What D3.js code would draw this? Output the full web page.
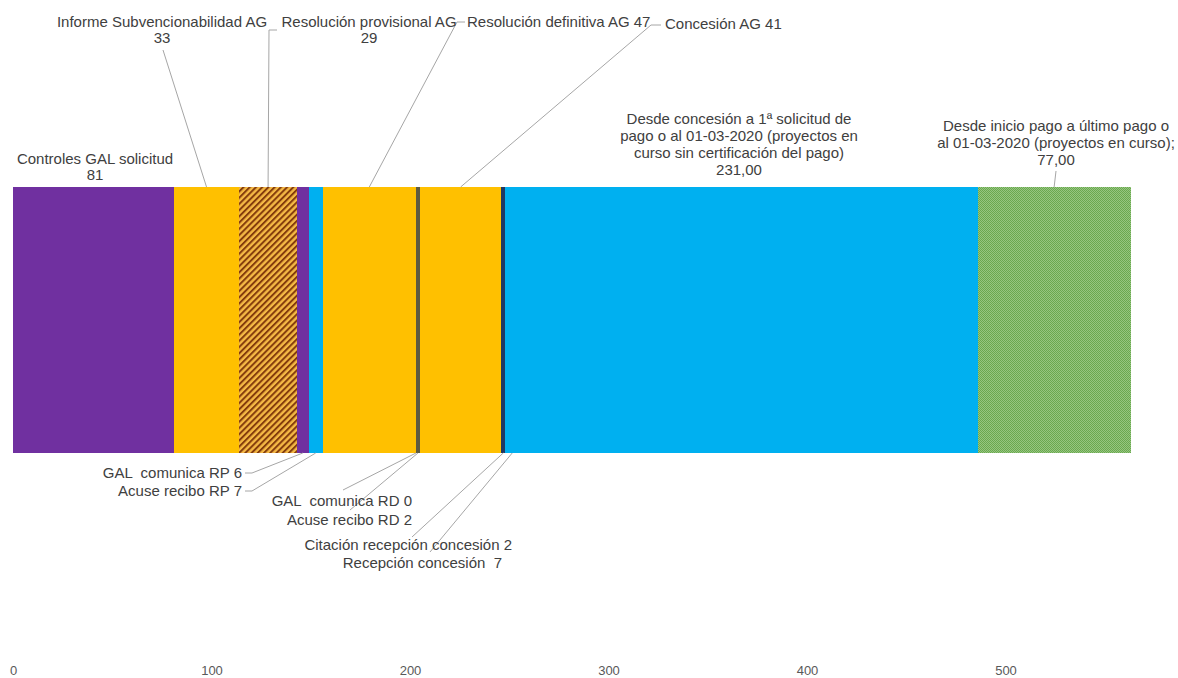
<!DOCTYPE html>
<html>
<head>
<meta charset="utf-8">
<script src="https://cdn.jsdelivr.net/npm/d3@7"></script>
<style>
  html, body { margin: 0; padding: 0; background: #fff; }
  svg { display: block; font-family: "Liberation Sans", Arial, sans-serif; }
</style>
</head>
<body>
<svg id="chart" width="1178" height="678"></svg>
<script>
// ---------- data ----------
const categories = [
  "Controles GAL solicitud",
  "Informe Subvencionabilidad AG",
  "Resolución provisional AG",
  "GAL  comunica RP",
  "Acuse recibo RP",
  "Resolución definitiva AG",
  "GAL  comunica RD",
  "Acuse recibo RD",
  "Concesión AG",
  "Citación recepción concesión",
  "Recepción concesión ",
  "Desde concesión a 1ª solicitud de pago o al 01-03-2020 (proyectos en curso sin certificación del pago)",
  "Desde inicio pago a último pago o al 01-03-2020 (proyectos en curso)"
];
const values = [81, 33, 29, 6, 7, 47, 0, 2, 41, 2, 7, 231, 77];
const valueLabels = ["81", "33", "29", "6", "7", "47", "0", "2", "41", "2", "7", "231,00", "77,00"];
const tickValues = [0, 100, 200, 300, 400, 500];

// ---------- styles ----------
const fills = [
  "#7030a0", "#ffc000", "url(#hatchOrange)", "#7030a0", "#00b0f0", "#ffc000",
  "#5d5a40", "#5d5a40", "#ffc000", "#1f3864", "#00b0f0", "#00b0f0", "url(#dotGreen)"
];
const textColor = "#404040";
const leaderColor = "#a6a6a6";

// label layout: text lines built from category + value; positions are layout only
const labelLayout = [
  { lines: ["Controles GAL solicitud", "81"], x: 95, y: 164, anchor: "middle", lh: 16 },
  { lines: ["Informe Subvencionabilidad AG", "33"], x: 162, y: 27, anchor: "middle", lh: 16,
    leader: { side: "top", pts: [[163, 50]] } },
  { lines: ["Resolución provisional AG", "29"], x: 369, y: 27, anchor: "middle", lh: 16,
    leader: { side: "top", pts: [[269, 30], [277, 30]] } },
  { lines: ["GAL  comunica RP 6"], x: 242, y: 478, anchor: "end",
    leader: { side: "bottom", pts: [[252, 473], [245, 473]] } },
  { lines: ["Acuse recibo RP 7"], x: 242, y: 496, anchor: "end",
    leader: { side: "bottom", pts: [[252, 491], [245, 491]] } },
  { lines: ["Resolución definitiva AG 47"], x: 467, y: 27, anchor: "start",
    leader: { side: "top", pts: [[457, 22], [465, 22]] } },
  { lines: ["GAL  comunica RD 0"], x: 412, y: 506, anchor: "end",
    leader: { side: "bottom", pts: [[343, 490]] } },
  { lines: ["Acuse recibo RD 2"], x: 412, y: 525, anchor: "end",
    leader: { side: "bottom", pts: [[350, 510]] } },
  { lines: ["Concesión AG 41"], x: 665, y: 29, anchor: "start",
    leader: { side: "top", pts: [[651, 25], [661, 25]] } },
  { lines: ["Citación recepción concesión 2"], x: 512, y: 550, anchor: "end",
    leader: { side: "bottom", pts: [[412, 537]] } },
  { lines: ["Recepción concesión  7"], x: 502, y: 568, anchor: "end",
    leader: { side: "bottom", pts: [[430, 552]] } },
  { lines: ["Desde concesión a 1ª solicitud de", "pago o al 01-03-2020 (proyectos en",
            "curso sin certificación del pago)", "231,00"], x: 739, y: 124, anchor: "middle", lh: 17 },
  { lines: ["Desde inicio pago a último pago o", "al 01-03-2020 (proyectos en curso);",
            "77,00"], x: 1056, y: 131, anchor: "middle", lh: 17,
    leader: { side: "top", pts: [[1056, 171]] } }
];

// ---------- chart ----------
const svg = d3.select("#chart");
const barTop = 187, barBottom = 453;

const x = d3.scaleLinear().domain([0, 570]).range([13, 13 + 570 * 1.985]);

const defs = svg.append("defs");
const hp = defs.append("pattern")
  .attr("id", "hatchOrange")
  .attr("patternUnits", "userSpaceOnUse")
  .attr("width", 4.4).attr("height", 4.4)
  .attr("patternTransform", "rotate(45)");
hp.append("rect").attr("width", 4.4).attr("height", 4.4).attr("fill", "#f5b945");
hp.append("rect").attr("width", 2).attr("height", 4.4).attr("fill", "#843c0c");

const gp = defs.append("pattern")
  .attr("id", "dotGreen")
  .attr("patternUnits", "userSpaceOnUse")
  .attr("width", 2).attr("height", 2);
gp.append("rect").attr("width", 2).attr("height", 2).attr("fill", "#96c680");
gp.append("rect").attr("width", 1).attr("height", 1).attr("fill", "#6aa84f");
gp.append("rect").attr("x", 1).attr("y", 1).attr("width", 1).attr("height", 1).attr("fill", "#6aa84f");

// stacked segments
let acc = 0;
const segs = values.map((v, i) => {
  const s = { i, cat: categories[i], v, label: valueLabels[i], x0: acc, x1: acc + v };
  acc += v;
  return s;
});

svg.append("g").attr("shape-rendering", "crispEdges").selectAll("rect")
  .data(segs)
  .join("rect")
  .attr("x", d => x(d.x0))
  .attr("y", barTop)
  .attr("width", d => Math.max(0, x(d.x1) - x(d.x0)))
  .attr("height", barBottom - barTop)
  .attr("fill", d => fills[d.i]);

// leader lines
const lg = svg.append("g").attr("fill", "none").attr("stroke", leaderColor).attr("stroke-width", 1);
segs.forEach(d => {
  const L = labelLayout[d.i];
  if (!L || !L.leader) return;
  const ax = x((d.x0 + d.x1) / 2);
  const ay = L.leader.side === "top" ? barTop : barBottom;
  const pts = [[ax, ay]].concat(L.leader.pts);
  lg.append("path").attr("d", d3.line()(pts));
});

// labels
const tg = svg.append("g").attr("fill", textColor).attr("font-size", 15);
segs.forEach(d => {
  const L = labelLayout[d.i];
  if (!L) return;
  const t = tg.append("text")
    .attr("text-anchor", L.anchor)
    .attr("x", L.x).attr("y", L.y);
  L.lines.forEach((ln, k) => {
    t.append("tspan").attr("x", L.x).attr("y", L.y + k * (L.lh || 16))
      .attr("xml:space", "preserve").style("white-space", "pre").text(ln);
  });
});

// axis
const axis = d3.axisBottom(x).tickValues(tickValues).tickSize(0).tickPadding(3)
  .tickFormat(d3.format("d"));
const ag = svg.append("g").attr("transform", `translate(0,${barBottom + 210})`).call(axis);
ag.select(".domain").remove();
ag.selectAll("text").attr("fill", "#595959").attr("font-size", 13)
  .attr("font-family", "Liberation Sans, Arial, sans-serif");
</script>
</body>
</html>
